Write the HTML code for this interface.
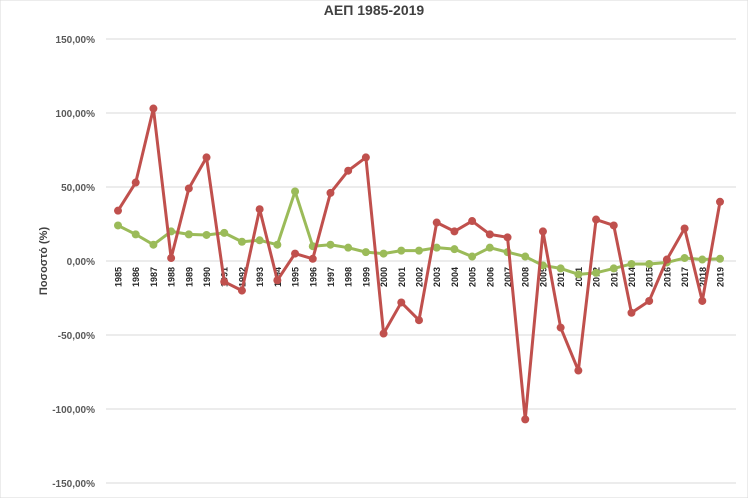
<!DOCTYPE html>
<html><head><meta charset="utf-8"><style>
body{margin:0;background:#fff;width:748px;height:498px;overflow:hidden;font-family:"Liberation Sans",sans-serif}
</style></head><body>
<svg id="c" width="748" height="498" style="position:absolute;left:0;top:0">
<rect x="0" y="0" width="748" height="498" fill="#fff" stroke="#d9d9d9"/>
<text x="374" y="15" text-anchor="middle" font-size="14" font-weight="bold" fill="#404040">ΑΕΠ 1985-2019</text>
<text transform="translate(47,261) rotate(-90)" text-anchor="middle" font-size="11" font-weight="bold" fill="#404040">Ποσοστό (%)</text>
<g id="grid"></g><g id="xl"></g><g id="series"></g>
</svg>
<script>
const years=[];for(let y=1985;y<=2019;y++)years.push(y);
const seriesRed=[34,53,103,2,49,70,-14,-20,35,-13,5,1.5,46,61,70,-49,-28,-40,26,20,27,18,16,-107,20,-45,-74,28,24,-35,-27,1,22,-27,40];
const seriesGreen=[24,18,11,20,18,17.6,19,13,14,11,47,10,11,9,6,5,7,7,9,8,3,9,6,3,-3,-5,-9,-8,-5,-2,-2,-1,2,1,1.5];
const yTicks=[150,100,50,0,-50,-100,-150];
const yTickLabels=["150,00%","100,00%","50,00%","0,00%","-50,00%","-100,00%","-150,00%"];
const NS="http://www.w3.org/2000/svg";
const yS=v=>261-v*1.48;
const xS=i=>118+i*(602/34);
function mk(t,a,p){const e=document.createElementNS(NS,t);for(const k in a)e.setAttribute(k,a[k]);p.appendChild(e);return e;}
const g=document.getElementById('grid');
yTicks.forEach((v,i)=>{
 const l=mk('line',{x1:106,x2:736,y1:yS(v),y2:yS(v),stroke:'#d9d9d9','stroke-width':1},g);
 
 
 const t=mk('text',{x:95,y:yS(v)+4,'text-anchor':'end','font-size':10,'font-weight':'bold',fill:'#595959'},g);
 t.textContent=yTickLabels[i];
 
 
});
const xl=document.getElementById('xl');
years.forEach((y,i)=>{
 const t=mk('text',{transform:`translate(${xS(i)+3.5},267) rotate(-90)`,'text-anchor':'end','font-size':9,'font-weight':'bold',fill:'#262626'},xl);
 t.textContent=y;
 
 
});
const s=document.getElementById('series');
[[seriesGreen,'#9bbb59','series-green'],[seriesRed,'#c0504d','series-red']].forEach(([d,c,n])=>{
 const pl=mk('polyline',{points:d.map((v,i)=>xS(i)+','+yS(v)).join(' '),fill:'none',stroke:c,'stroke-width':3,'stroke-linejoin':'round'},s);
 
 
 d.forEach((v,i)=>{
  const p=mk('circle',{cx:xS(i),cy:yS(v),r:4,fill:c},s);
  
  
 });
});
</script>
</body></html>
